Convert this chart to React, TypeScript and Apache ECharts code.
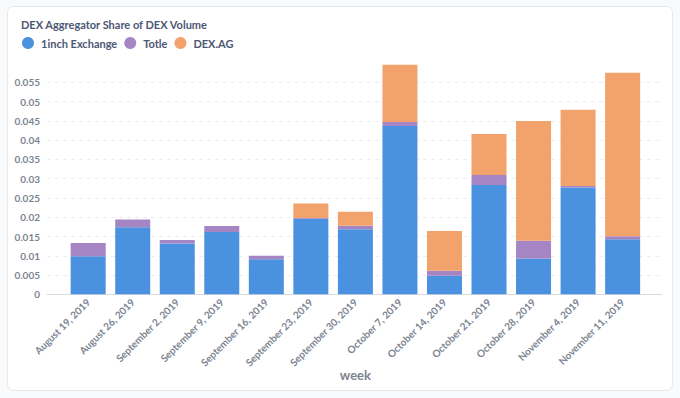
import React, { useEffect, useRef } from "react";
import * as echarts from "echarts";

const categories = [
  "August 19, 2019",
  "August 26, 2019",
  "September 2, 2019",
  "September 9, 2019",
  "September 16, 2019",
  "September 23, 2019",
  "September 30, 2019",
  "October 7, 2019",
  "October 14, 2019",
  "October 21, 2019",
  "October 28, 2019",
  "November 4, 2019",
  "November 11, 2019",
];
const oneInch = [0.0099, 0.0174, 0.0132, 0.0162, 0.0091, 0.0196, 0.0169, 0.0437, 0.0048, 0.0284, 0.0093, 0.0277, 0.0143];
const totle = [0.0034, 0.002, 0.0009, 0.0015, 0.0009, 0.0002, 0.0009, 0.001, 0.0013, 0.0026, 0.0046, 0.0004, 0.0008];
const dexAg = [0, 0, 0, 0, 0, 0.0038, 0.0036, 0.0149, 0.0103, 0.0106, 0.0311, 0.0198, 0.0424];
const yMax = 0.0596;
const yStep = 0.005;

const FONT = "Lato, 'Noto Sans', sans-serif";
const COLORS = ["#4A91DF", "#A585C3", "#F2A36B"];

export default function App() {
  const ref = useRef<HTMLDivElement>(null);
  useEffect(() => {
    document.body.style.margin = "0";
    const chart = echarts.init(ref.current!, null, { renderer: "svg" });
    const mkSeries = (name: string, data: number[], i: number) => ({
      name,
      type: "bar",
      stack: "total",
      xAxisIndex: 1,
      yAxisIndex: 1,
      barWidth: 35,
      data,
      itemStyle: { color: COLORS[i] },
    });
    chart.setOption({
      animation: false,
      backgroundColor: "#f9fafb",
      textStyle: { fontFamily: FONT },
      graphic: [
        {
          type: "rect",
          z: -10,
          shape: { x: 7.5, y: 6.5, width: 665, height: 384, r: 6 },
          style: { fill: "#ffffff", stroke: "#e6e8eb", lineWidth: 1 },
        },
      ],
      title: {
        text: "DEX Aggregator Share of DEX Volume",
        left: 16,
        top: 14,
        textStyle: { fontFamily: FONT, fontSize: 11, fontWeight: 700, color: "#4c5773" },
      },
      legend: {
        left: 17,
        top: 32,
        icon: "circle",
        itemWidth: 12,
        itemHeight: 12,
        itemGap: 7,
        data: ["1inch Exchange", "Totle", "DEX.AG"],
        textStyle: { fontFamily: FONT, fontSize: 11, fontWeight: 700, color: "#4c5773", padding: [0, 0, 0, 2] },
      },
      grid: [
        { left: 47, right: 18, top: 64.7, bottom: 103.7 },
        { left: 65.9, right: 35.1, top: 64.7, bottom: 103.7 },
      ],
      xAxis: [
        {
          type: "value",
          gridIndex: 0,
          min: 0,
          max: 1,
          axisLine: { show: true, lineStyle: { color: "#d7dadf", width: 1 } },
          axisTick: { show: false },
          axisLabel: { show: false },
          splitLine: { show: false },
        },
        {
          type: "category",
          gridIndex: 1,
          data: categories,
          name: "week",
          nameLocation: "middle",
          nameGap: 74,
          nameMoveOverlap: false,
          nameTextStyle: { fontFamily: FONT, fontSize: 13, fontWeight: 700, color: "#7c8491" },
          axisLine: { show: false },
          axisTick: { show: false },
          axisLabel: {
            rotate: 45,
            interval: 0,
            margin: 6,
            fontFamily: FONT,
            fontSize: 10,
            fontWeight: 700,
            color: "#7c8491",
          },
        },
      ],
      yAxis: [
        {
          type: "value",
          gridIndex: 0,
          min: 0,
          max: yMax,
          interval: yStep,
          axisLine: { show: false },
          axisTick: { show: false },
          axisLabel: {
            showMaxLabel: false,
            margin: 7,
            fontFamily: FONT,
            fontSize: 10,
            fontWeight: 700,
            color: "#7c8491",
          },
          splitLine: {
            show: true,
            showMaxLine: false,
            showMinLine: false,
            lineStyle: { color: "#ebedf0", type: [4, 4] },
          },
        },
        {
          type: "value",
          gridIndex: 1,
          min: 0,
          max: yMax,
          interval: yStep,
          show: false,
          splitLine: { show: false },
        },
      ],
      series: [
        mkSeries("1inch Exchange", oneInch, 0),
        mkSeries("Totle", totle, 1),
        mkSeries("DEX.AG", dexAg, 2),
      ],
    });
    return () => chart.dispose();
  }, []);
  return <div ref={ref} style={{ width: 680, height: 398 }} />;
}
